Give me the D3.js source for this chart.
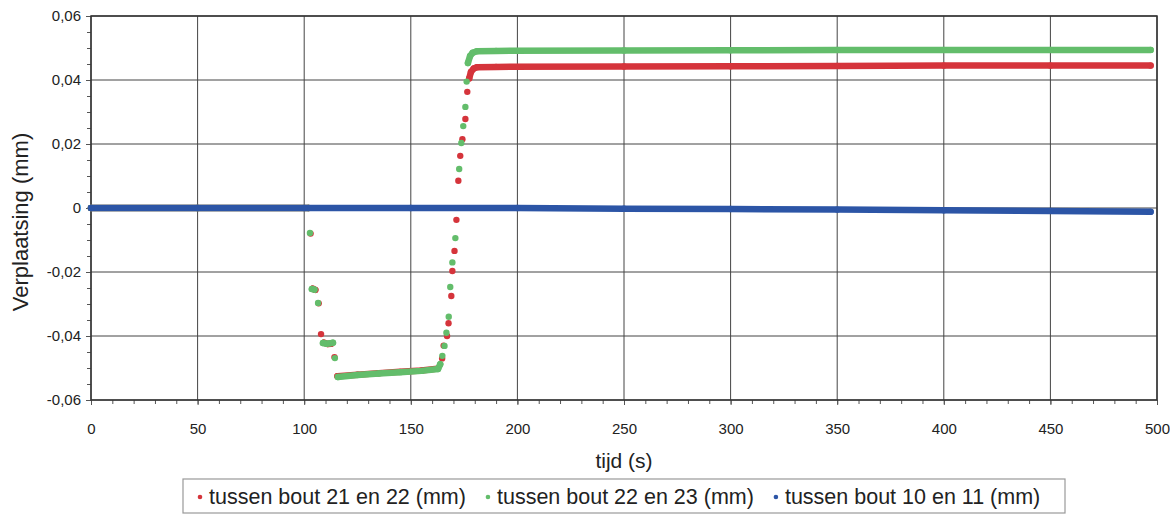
<!DOCTYPE html>
<html>
<head>
<meta charset="utf-8">
<script src="https://cdn.jsdelivr.net/npm/d3@7"></script>
<style>
  body { margin: 0; background: #fff; }
  svg { font-family: "Liberation Sans", Arial, sans-serif; }
</style>
</head>
<body>
<script>
const width = 1170;
const height = 515;
const marginTop = 16;
const marginRight = 13;
const marginBottom = 115;
const marginLeft = 91;

// tick values
const xTicks = [0, 50, 100, 150, 200, 250, 300, 350, 400, 450, 500];
const yTicks = [-0.06, -0.04, -0.02, 0, 0.02, 0.04, 0.06];

// legend names
const seriesNames = [
  "tussen bout 21 en 22 (mm)",
  "tussen bout 22 en 23 (mm)",
  "tussen bout 10 en 11 (mm)",
];

// readings [tijd (s), verplaatsing (mm)]
const bout2122 = [
  [0, 0], [50, 0], [102, 0], [103, -0.008], [104, -0.0252], [105.2, -0.0256],
  [106.8, -0.0298], [107.9, -0.0394], [109.3, -0.0421], [111, -0.0425],
  [112.6, -0.0424], [114.2, -0.0466], [115.6, -0.0526], [125, -0.0521],
  [135, -0.0516], [145, -0.0512], [155, -0.0508], [162.5, -0.0502],
  [164.7, -0.047], [165.4, -0.043], [167, -0.04], [167.7, -0.036],
  [169, -0.0275], [169.5, -0.0197], [170.5, -0.0134], [171.4, -0.0037],
  [172.3, 0.0085], [173.2, 0.0163], [174.2, 0.0215], [175.6, 0.0278],
  [176.5, 0.0363], [177.4, 0.0405], [178.2, 0.0425], [179.5, 0.0436],
  [181, 0.044], [190, 0.0441], [250, 0.0442], [300, 0.0443], [350, 0.0444],
  [400, 0.0445], [450, 0.0445], [497, 0.0445],
];

const bout2223 = [
  [0, 0], [50, 0], [102, 0], [102.7, -0.0078], [103.6, -0.0253], [104.8, -0.0255],
  [106.5, -0.0297], [108.8, -0.0422], [110.4, -0.0424], [112, -0.0423],
  [113.5, -0.0421], [114.4, -0.0469], [115.8, -0.0528], [125, -0.0522],
  [135, -0.0517], [145, -0.0513], [155, -0.0509], [162.8, -0.0503],
  [163.8, -0.0488], [164.8, -0.0462], [165.8, -0.0431], [166.7, -0.039],
  [167.8, -0.034], [168.5, -0.0247], [169.5, -0.017], [170.9, -0.0094],
  [172.7, 0.0122], [173.7, 0.0203], [174.6, 0.0256], [175.6, 0.0316],
  [176.2, 0.0395], [176.8, 0.0453], [177.8, 0.0475], [179, 0.0485],
  [181, 0.049], [190, 0.0491], [250, 0.0492], [300, 0.0493], [350, 0.0494],
  [400, 0.0494], [450, 0.0494], [497, 0.0494],
];

const bout1011 = [
  [0, 0], [50, 0], [100, 0], [150, 0], [200, 0], [250, -0.0002],
  [300, -0.0003], [350, -0.0005], [400, -0.0007], [450, -0.0009], [497, -0.0012],
];

const series = [
  { name: seriesNames[0], data: bout2122, color: "#d5343b" },
  { name: seriesNames[1], data: bout2223, color: "#63bd6b" },
  { name: seriesNames[2], data: bout1011, color: "#2c55a6" },
];

const x = d3.scaleLinear([0, 500], [marginLeft, width - marginRight]);
const y = d3.scaleLinear([-0.06, 0.06], [height - marginBottom, marginTop]);

// Dutch decimal comma, plain hyphen for minus
const fmtY = (d) =>
  Math.abs(d) < 1e-9 ? "0" : d3.format(".2f")(d).replace(".", ",").replace("\u2212", "-");
const fmtX = (d) => String(d);

const svg = d3
  .select("body")
  .append("svg")
  .attr("width", width)
  .attr("height", height);

// grid
svg
  .append("g")
  .attr("stroke", "#444")
  .attr("stroke-width", 1)
  .call((g) =>
    g
      .selectAll("line.v")
      .data(xTicks)
      .join("line")
      .attr("class", "v")
      .attr("x1", (d) => x(d))
      .attr("x2", (d) => x(d))
      .attr("y1", y(0.06))
      .attr("y2", y(-0.06))
  )
  .call((g) =>
    g
      .selectAll("line.h")
      .data(yTicks)
      .join("line")
      .attr("class", "h")
      .attr("x1", x(0))
      .attr("x2", x(500))
      .attr("y1", (d) => y(d))
      .attr("y2", (d) => y(d))
  );

// axes (minor + major ticks)
svg
  .append("g")
  .attr("transform", `translate(0,${y(-0.06)})`)
  .call(d3.axisBottom(x).tickValues(d3.range(0, 501, 10)).tickSize(4).tickFormat(""))
  .call((g) => g.select(".domain").remove());
svg
  .append("g")
  .attr("transform", `translate(0,${y(-0.06)})`)
  .call(d3.axisBottom(x).tickValues(xTicks).tickSize(5).tickPadding(18).tickFormat(fmtX))
  .call((g) => g.select(".domain").remove())
  .call((g) => g.selectAll("text").attr("font-size", 15).attr("fill", "#222"));

svg
  .append("g")
  .attr("transform", `translate(${x(0)},0)`)
  .call(d3.axisLeft(y).tickValues(d3.range(-0.06, 0.0601, 0.005)).tickSize(4).tickFormat(""))
  .call((g) => g.select(".domain").remove());
svg
  .append("g")
  .attr("transform", `translate(${x(0)},0)`)
  .call(d3.axisLeft(y).tickValues(yTicks).tickSize(5).tickPadding(5).tickFormat(fmtY))
  .call((g) => g.select(".domain").remove())
  .call((g) => g.selectAll("text").attr("font-size", 15).attr("fill", "#222"));

svg.selectAll(".tick line").attr("stroke", "#555");
svg.selectAll(".tick text").attr("font-family", null);

// frame
svg
  .append("rect")
  .attr("x", x(0))
  .attr("y", y(0.06))
  .attr("width", x(500) - x(0))
  .attr("height", y(-0.06) - y(0.06))
  .attr("fill", "none")
  .attr("stroke", "#333")
  .attr("stroke-width", 1.5);

// series: dense runs drawn as a thick line, every reading as a dot
function runs(data) {
  const out = [];
  let cur = [data[0]];
  for (let i = 1; i < data.length; i++) {
    if (Math.abs(data[i][1] - data[i - 1][1]) <= 0.0025) cur.push(data[i]);
    else {
      out.push(cur);
      cur = [data[i]];
    }
  }
  out.push(cur);
  return out.filter((r) => r.length > 1);
}

const line = d3
  .line()
  .x((d) => x(d[0]))
  .y((d) => y(d[1]));

const plot = svg.append("g");
series.forEach((s) => {
  const g = plot.append("g");
  g.selectAll("path")
    .data(runs(s.data))
    .join("path")
    .attr("d", line)
    .attr("fill", "none")
    .attr("stroke", s.color)
    .attr("stroke-width", 6.5)
    .attr("stroke-linecap", "round")
    .attr("stroke-linejoin", "round");
  g.selectAll("circle")
    .data(s.data)
    .join("circle")
    .attr("cx", (d) => x(d[0]))
    .attr("cy", (d) => y(d[1]))
    .attr("r", 3.2)
    .attr("fill", s.color);
});

// axis titles
svg
  .append("text")
  .attr("x", (x(0) + x(500)) / 2)
  .attr("y", 468)
  .attr("text-anchor", "middle")
  .attr("font-size", 21)
  .attr("fill", "#222")
  .text("tijd (s)");

svg
  .append("text")
  .attr("transform", `translate(28,222) rotate(-90)`)
  .attr("text-anchor", "middle")
  .attr("font-size", 22)
  .attr("fill", "#222")
  .text("Verplaatsing (mm)");

// legend
const legend = svg.append("g");
legend
  .append("rect")
  .attr("x", 183)
  .attr("y", 479)
  .attr("width", 882)
  .attr("height", 34)
  .attr("fill", "#fff")
  .attr("stroke", "#999")
  .attr("stroke-width", 1.2);

let lx = 200;
series.forEach((s) => {
  legend
    .append("circle")
    .attr("cx", lx)
    .attr("cy", 497)
    .attr("r", 2.3)
    .attr("fill", s.color);
  const t = legend
    .append("text")
    .attr("x", lx + 9)
    .attr("y", 504)
    .attr("font-size", 21.5)
    .attr("fill", "#222")
    .text(s.name);
  lx += 9 + t.node().getComputedTextLength() + 22;
});
</script>
</body>
</html>
